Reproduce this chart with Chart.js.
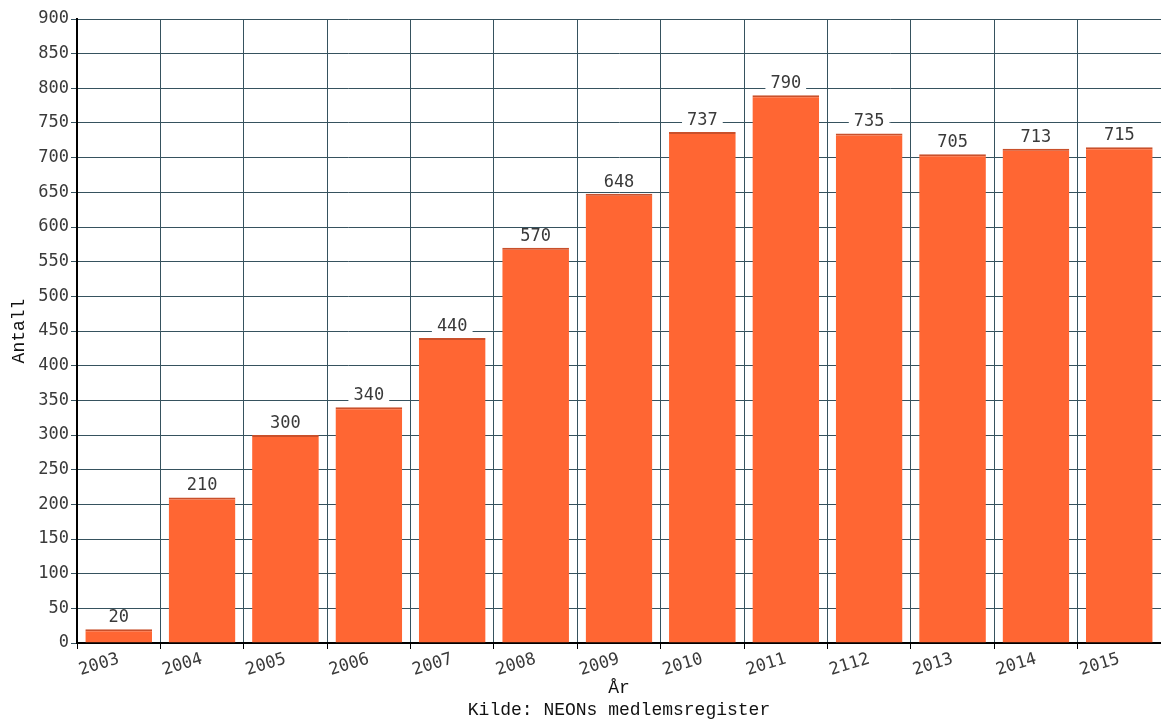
<!DOCTYPE html>
<html>
<head>
<meta charset="utf-8">
<script src="https://cdn.jsdelivr.net/npm/chart.js@4"></script>
<style>
  html, body { margin: 0; padding: 0; background: #fff; }
  #wrap { width: 1161px; height: 722px; }
</style>
</head>
<body>
<div id="wrap"><canvas id="medlemmer"></canvas></div>
<script>
    // Årstall (2112 står slik i originalen)
    const years = ['2003', '2004', '2005', '2006', '2007', '2008', '2009', '2010', '2011', '2112', '2013', '2014', '2015'];
    // Antall medlemmer
    const members = [20, 210, 300, 340, 440, 570, 648, 737, 790, 735, 705, 713, 715];

    const gridColor = '#36525e';
    const tickFont = { family: 'DejaVu Sans Mono', size: 17 };
    const titleFont = { family: 'Liberation Mono', size: 18 };

    // Verdietiketter med hvit bakgrunn over hver søyle
    const valueLabels = {
        id: 'valueLabels',
        afterDatasetsDraw(chart) {
            const ctx = chart.ctx;
            const meta = chart.getDatasetMeta(0);
            ctx.save();
            ctx.font = '17px "DejaVu Sans Mono"';
            ctx.textAlign = 'center';
            ctx.textBaseline = 'bottom';
            meta.data.forEach((bar, i) => {
                const txt = String(chart.data.datasets[0].data[i]);
                const w = ctx.measureText(txt).width;
                const yBottom = bar.y - 4;
                ctx.fillStyle = '#fff';
                ctx.fillRect(bar.x - w / 2 - 5, yBottom - 15, w + 10, 15);
                ctx.fillStyle = '#3a3a3a';
                ctx.fillText(txt, bar.x, yBottom + 1);
            });
            ctx.restore();
        }
    };

    const ctx = document.getElementById('medlemmer').getContext('2d');
    new Chart(ctx, {
        type: 'bar',
        data: {
            labels: years,
            datasets: [{
                label: 'Antall',
                data: members,
                backgroundColor: '#ff6633',
                borderColor: '#c9502b',
                borderWidth: { top: 2, left: 0, right: 0, bottom: 0 },
                borderSkipped: false,
                categoryPercentage: 1,
                barPercentage: 0.8
            }]
        },
        options: {
            responsive: true,
            maintainAspectRatio: false,
            animation: false,
            layout: { padding: { top: 19, right: 0, left: 0, bottom: 0 } },
            plugins: {
                legend: { display: false },
                tooltip: { enabled: false }
            },
            scales: {
                x: {
                    grid: { color: gridColor, offset: true, tickLength: 6, drawTicks: true, tickColor: '#000' },
                    border: { color: '#000', width: 2 },
                    ticks: { color: '#3a3a3a', font: tickFont, minRotation: 17, maxRotation: 17, padding: 0 },
                    title: {
                        display: true,
                        text: ['År', 'Kilde: NEONs medlemsregister'],
                        color: '#111',
                        font: titleFont,
                        padding: { top: 0, bottom: 1 }
                    },
                    afterFit(scale) { scale.height = 79; }
                },
                y: {
                    min: 0,
                    max: 900,
                    grid: { color: gridColor, tickLength: 6 },
                    border: { color: '#000', width: 2 },
                    ticks: { stepSize: 50, color: '#3a3a3a', font: tickFont, padding: 2 },
                    title: {
                        display: true,
                        text: 'Antall',
                        color: '#111',
                        font: titleFont,
                        padding: { top: 8, bottom: 4 }
                    },
                    afterFit(scale) { scale.width = 77; }
                }
            }
        },
        plugins: [valueLabels]
    });
</script>
</body>
</html>
